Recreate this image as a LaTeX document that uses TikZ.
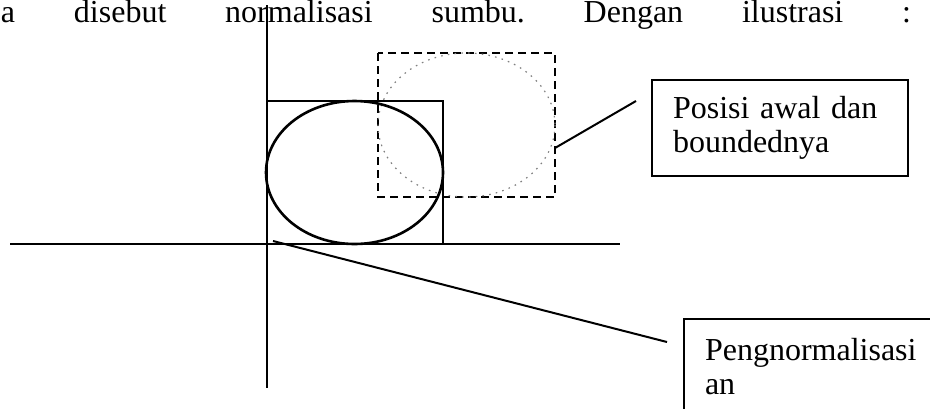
\documentclass[tikz,border=0pt]{standalone}
\usepackage{fontspec}
\setmainfont{Liberation Serif}
\usetikzlibrary{
    calc,
    positioning
}
\tikzset{
  every path/.style={
    black,
    line width=1pt
  },
  every node/.style={
    inner sep=1.5pt,
    font=\fontsize{16}{17}\selectfont
  },
  kotakket/.style={
    draw,
    anchor=north west,
    minimum width=128pt,
    minimum height=48pt,
    text width=107pt,
    inner xsep=10.5pt,
    align=left
  }
}

\begin{document}
\begin{tikzpicture}[x=0.5pt,y=-0.5pt]

    \useasboundingbox (0,0) rectangle (930,408);

    % potongan kalimat di atas
    \node[anchor=base west, inner sep=0pt] (kalimat) at (0,22)
        {\hbox to 455pt{a\hfill disebut\hfill normalisasi\hfill sumbu.\hfill Dengan\hfill ilustrasi\hfill :}};

    % sumbu
    \draw (10,244) -- (620,244);
    \draw (266.5,5) -- (266.5,388);

    % posisi awal (putus-putus)
    \draw[line width=1.3pt, dash pattern=on 4pt off 2.5pt] (378,53) rectangle (555,197);
    \draw[gray, line width=0.6pt, dash pattern=on 0.8pt off 2.6pt]
        (466.5,125) ellipse [x radius=88.5, y radius=72];

    % hasil normalisasi
    \draw (266.5,101) rectangle (443,244);
    \draw[line width=1.3pt] (354.5,172.5) ellipse [x radius=88.5, y radius=71.5];

    % keterangan
    \node[kotakket] (awal) at (651,79) {Posisi awal dan\\boundednya};
    \node[kotakket] (normal) at (683,318) {Pengnormalisasi\\an};

    \coordinate (p1) at (555,148);
    \coordinate (q1) at (636,101);
    \coordinate (p2) at (273,241);
    \coordinate (q2) at (667,342);
    \draw (p1) -- (q1);
    \draw (p2) -- (q2);

\end{tikzpicture}
\end{document}
